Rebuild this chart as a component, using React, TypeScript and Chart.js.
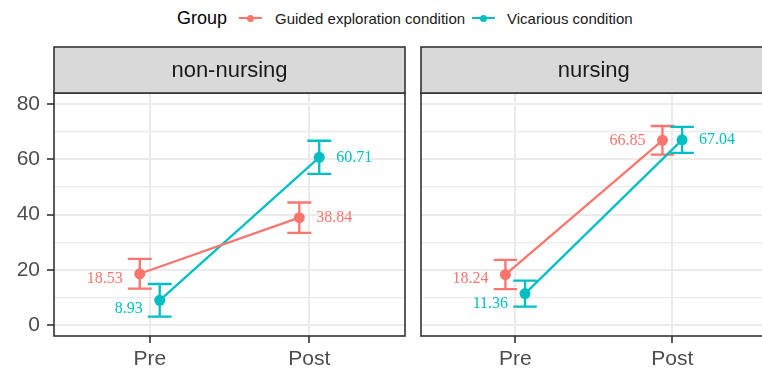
import React, { useEffect, useRef } from "react";
import { Chart, registerables } from "chart.js";

Chart.register(...registerables);

// ---------- data ----------
const categories = ["Pre", "Post"];
const facets = ["non-nursing", "nursing"];
const groupNames = ["Guided exploration condition", "Vicarious condition"];
const legendTitle = "Group";

const guidedNonNursing = [18.53, 38.84];
const vicariousNonNursing = [8.93, 60.71];
const guidedNursing = [18.24, 66.85];
const vicariousNursing = [11.36, 67.04];

const guidedNonNursingErr = [5.4, 5.5];
const vicariousNonNursingErr = [5.9, 6.0];
const guidedNursingErr = [5.3, 5.2];
const vicariousNursingErr = [4.7, 4.7];

const yMajorTicks = [0, 20, 40, 60, 80];
const yMinorTicks = [10, 30, 50, 70];

// ---------- styles ----------
const COLORS = ["#F8766D", "#00BFC4"];
const DODGE = 0.0625;
const CAP = 0.075;
const SANS = "'Liberation Sans', Arial, sans-serif";
const SERIF = "'Liberation Serif', 'Times New Roman', serif";

const panelDecor = {
  id: "panelDecor",
  beforeDatasetsDraw(chart: any) {
    const ctx = chart.ctx;
    const xs = chart.scales.x;
    const ys = chart.scales.y;
    chart.data.datasets.forEach((ds: any) => {
      ctx.save();
      ctx.strokeStyle = ds.borderColor;
      ctx.lineWidth = 2.3;
      ds.data.forEach((p: any, i: number) => {
        const e = ds.err[i];
        const x = xs.getPixelForValue(p.x);
        const x0 = xs.getPixelForValue(p.x - CAP);
        const x1 = xs.getPixelForValue(p.x + CAP);
        const yt = ys.getPixelForValue(p.y + e);
        const yb = ys.getPixelForValue(p.y - e);
        ctx.beginPath();
        ctx.moveTo(x, yt);
        ctx.lineTo(x, yb);
        ctx.moveTo(x0, yt);
        ctx.lineTo(x1, yt);
        ctx.moveTo(x0, yb);
        ctx.lineTo(x1, yb);
        ctx.stroke();
      });
      ctx.restore();
    });
  },
  afterDatasetsDraw(chart: any) {
    const ctx = chart.ctx;
    chart.data.datasets.forEach((ds: any, k: number) => {
      const meta = chart.getDatasetMeta(k);
      ctx.save();
      ctx.fillStyle = ds.borderColor;
      ctx.font = `16px ${SERIF}`;
      ctx.textBaseline = "middle";
      meta.data.forEach((el: any, i: number) => {
        const side = ds.labelSide[i];
        const txt = ds.data[i].y.toFixed(2);
        ctx.textAlign = side === "left" ? "right" : "left";
        const x = side === "left" ? el.x - 17 : el.x + 17;
        ctx.fillText(txt, x, el.y + ds.labelDy[i]);
      });
      ctx.restore();
    });
  },
  afterDraw(chart: any, _args: any, opts: any) {
    const ctx = chart.ctx;
    const a = chart.chartArea;
    ctx.save();
    ctx.strokeStyle = "#333333";
    ctx.lineWidth = 1.6;
    ctx.strokeRect(a.left, a.top, a.right - a.left, a.bottom - a.top);
    const stripTop = 47;
    ctx.fillStyle = "#D9D9D9";
    ctx.fillRect(a.left, stripTop, a.right - a.left, a.top - stripTop);
    ctx.strokeRect(a.left, stripTop, a.right - a.left, a.top - stripTop);
    ctx.fillStyle = "#1A1A1A";
    ctx.font = `22px ${SANS}`;
    ctx.textAlign = "center";
    ctx.textBaseline = "middle";
    ctx.fillText(opts.title, (a.left + a.right) / 2, (stripTop + a.top) / 2 + 1);
    ctx.restore();
  },
};

type Series = { values: number[]; err: number[]; sides: string[]; dy: number[] };

function Panel({ facetIndex, left, width, series, showY }: { facetIndex: number; left: number; width: number; series: Series[]; showY: boolean }) {
  const ref = useRef<HTMLCanvasElement>(null);
  useEffect(() => {
    const allY = [...yMajorTicks, ...yMinorTicks].sort((a, b) => a - b);
    const chart = new Chart(ref.current as HTMLCanvasElement, {
      type: "scatter",
      data: {
        datasets: series.map((s, k) => ({
          label: groupNames[k],
          data: s.values.map((v, i) => ({ x: i + 1 + (k === 0 ? -DODGE : DODGE), y: v })),
          err: s.err,
          labelSide: s.sides,
          labelDy: s.dy,
          showLine: true,
          borderColor: COLORS[k],
          backgroundColor: COLORS[k],
          borderWidth: 2.3,
          pointRadius: 5.5,
          pointHoverRadius: 5.5,
          pointBorderWidth: 0,
        })) as any,
      },
      options: {
        responsive: false,
        animation: false,
        events: [],
        layout: { padding: { left: showY ? 0 : 8, right: showY ? 8 : 0, top: 93, bottom: 0 } },
        plugins: {
          legend: { display: false },
          tooltip: { enabled: false },
          panelDecor: { title: facets[facetIndex] },
        } as any,
        scales: {
          x: {
            type: "linear",
            min: 0.4,
            max: 2.6,
            afterBuildTicks: (s: any) => {
              s.ticks = categories.map((_, i) => ({ value: i + 1 }));
            },
            afterFit: (s: any) => {
              s.height = 36;
            },
            ticks: {
              callback: (v: any) => categories[Math.round(Number(v)) - 1] ?? "",
              font: { family: SANS, size: 21 },
              color: "#4D4D4D",
              padding: 4,
              maxRotation: 0,
              autoSkip: false,
            },
            grid: { color: "#EBEBEB", lineWidth: 2, tickLength: 7, tickColor: "#333333", tickWidth: 1.6 },
            border: { display: false },
          },
          y: {
            type: "linear",
            min: -4,
            max: 84,
            afterBuildTicks: (s: any) => {
              s.ticks = allY.map((v) => ({ value: v }));
            },
            afterFit: (s: any) => {
              s.width = showY ? 54 : 0;
            },
            ticks: {
              display: showY,
              callback: (v: any) => (yMajorTicks.includes(Number(v)) ? String(v) : ""),
              font: { family: SANS, size: 21 },
              color: "#4D4D4D",
              padding: 7,
              autoSkip: false,
            },
            grid: {
              color: "#EBEBEB",
              lineWidth: (c: any) => (yMajorTicks.includes(c.tick?.value) ? 2 : 1.2),
              drawTicks: showY,
              tickLength: 7,
              tickColor: (c: any) => (yMajorTicks.includes(c.tick?.value) ? "#333333" : "rgba(0,0,0,0)"),
              tickWidth: 1.6,
            },
            border: { display: false },
          },
        },
      } as any,
      plugins: [panelDecor],
    });
    return () => chart.destroy();
  }, []);
  return (
    <canvas
      ref={ref}
      width={width}
      height={372}
      style={{ position: "absolute", left, top: 0, width, height: 372 }}
    />
  );
}

function LegendKey({ left, color }: { left: number; color: string }) {
  return (
    <>
      <div style={{ position: "absolute", left, top: 17, width: 23, height: 2, background: color }} />
      <div style={{ position: "absolute", left: left + 8, top: 14.5, width: 7, height: 7, borderRadius: "50%", background: color }} />
    </>
  );
}

export default function App() {
  const nonNursing: Series[] = [
    { values: guidedNonNursing, err: guidedNonNursingErr, sides: ["left", "right"], dy: [5, 0] },
    { values: vicariousNonNursing, err: vicariousNonNursingErr, sides: ["left", "right"], dy: [9, 0] },
  ];
  const nursing: Series[] = [
    { values: guidedNursing, err: guidedNursingErr, sides: ["left", "left"], dy: [4, 0] },
    { values: vicariousNursing, err: vicariousNursingErr, sides: ["left", "right"], dy: [10, 0] },
  ];
  const textStyle: React.CSSProperties = {
    position: "absolute",
    top: 18,
    transform: "translateY(-50%)",
    lineHeight: 1,
    whiteSpace: "nowrap",
    fontFamily: SANS,
  };
  return (
    <div style={{ position: "absolute", left: 0, top: 0, width: 762, height: 372, overflow: "hidden", background: "#FFFFFF" }}>
      <div style={{ ...textStyle, left: 177, fontSize: 18, color: "#000000" }}>{legendTitle}</div>
      <LegendKey left={239} color={COLORS[0]} />
      <div style={{ ...textStyle, left: 275, fontSize: 15, color: "#1A1A1A" }}>{groupNames[0]}</div>
      <LegendKey left={472} color={COLORS[1]} />
      <div style={{ ...textStyle, left: 507, fontSize: 15, color: "#1A1A1A" }}>{groupNames[1]}</div>
      <Panel facetIndex={0} left={0} width={413} series={nonNursing} showY={true} />
      <Panel facetIndex={1} left={413} width={359} series={nursing} showY={false} />
    </div>
  );
}
